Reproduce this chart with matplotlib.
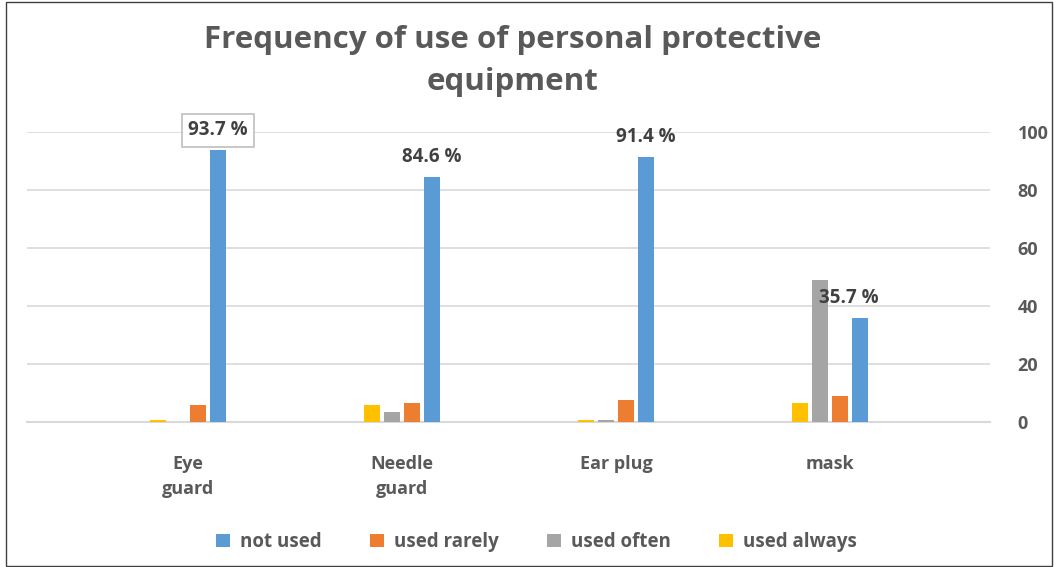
import matplotlib
matplotlib.use("Agg")
import matplotlib.pyplot as plt
import numpy as np
from matplotlib.patches import Rectangle

# Data
categories = ['Eye\nguard', 'Needle\nguard', 'Ear plug', 'mask']
not_used = [93.7, 84.6, 91.4, 35.7]
used_rarely = [5.9, 6.5, 7.6, 9.1]
used_often = [0.0, 3.4, 0.7, 49.0]
used_always = [0.6, 5.9, 0.7, 6.5]
label_texts = ['93.7 %', '84.6 %', '91.4 %', '35.7 %']

plt.rcParams['font.family'] = ['Open Sans', 'DejaVu Sans']
text_gray = '#595959'

fig = plt.figure(figsize=(10.54, 5.67), dpi=100)
ax = fig.add_axes([27 / 1054, 1 - 422 / 567, (990 - 27) / 1054, (422 - 132) / 567])

x = np.arange(len(categories))
pitch = 0.0935
width = 0.075

# left to right inside each group: always, often, rarely, not used
b_always = ax.bar(x - 1.5 * pitch, used_always, width, color='#FFC000', label='used always', zorder=3)
b_often = ax.bar(x - 0.5 * pitch, used_often, width, color='#A5A5A5', label='used often', zorder=3)
b_rarely = ax.bar(x + 0.5 * pitch, used_rarely, width, color='#ED7D31', label='used rarely', zorder=3)
b_not = ax.bar(x + 1.5 * pitch, not_used, width, color='#5B9BD5', label='not used', zorder=3)

# data labels for "not used"
for i, (v, t) in enumerate(zip(not_used, label_texts)):
    bbox = None
    if i == 0:
        bbox = dict(boxstyle='square,pad=0.35', fc='white', ec='#BFBFBF', lw=1.2)
    xi = x[i] + 1.5 * pitch
    if i == 3:
        xi = x[i] + 0.09
    ax.text(xi, v + 3.5, t, ha='center', va='bottom', fontsize=13.5, fontweight='bold',
            color='#404040', bbox=bbox, zorder=5)

ax.set_xlim(-0.752, 3.748)
ax.set_ylim(0, 100)
ax.set_yticks([0, 20, 40, 60, 80, 100])
ax.yaxis.tick_right()
ax.tick_params(axis='y', length=0, pad=20, labelsize=13, labelcolor=text_gray)
ax.set_xticks(x)
ax.set_xticklabels(categories, fontsize=13, fontweight='bold', color=text_gray, linespacing=1.45)
ax.tick_params(axis='x', length=0, pad=24)
for lab in ax.get_yticklabels():
    lab.set_fontweight('bold')

ax.grid(axis='y', color='#D9D9D9', lw=1.2, zorder=0)
for s in ['top', 'left', 'right']:
    ax.spines[s].set_visible(False)
ax.spines['bottom'].set_color('#D9D9D9')
ax.spines['bottom'].set_linewidth(1.5)

fig.text(0.486, 1 - 61 / 567, 'Frequency of use of personal protective\nequipment',
         ha='center', va='center', fontsize=22.5, fontweight='bold', color=text_gray,
         linespacing=1.5)

handles = [b_not, b_rarely, b_often, b_always]
leg = fig.legend(handles, [h.get_label() for h in handles], loc='center',
                 bbox_to_anchor=(0.509, 1 - 542 / 567), ncol=4, frameon=False,
                 fontsize=13.5, handlelength=0.75, handleheight=0.75, columnspacing=2.6,
                 handletextpad=0.5)
for t in leg.get_texts():
    t.set_color(text_gray)
    t.set_fontweight('bold')

# chart border
fig.patches.append(Rectangle((6 / 1054, 0.002), 1 - 8 / 1054, 0.995, transform=fig.transFigure,
                             fill=False, ec='#404040', lw=1.0))

fig.savefig('out.png', dpi=100)
